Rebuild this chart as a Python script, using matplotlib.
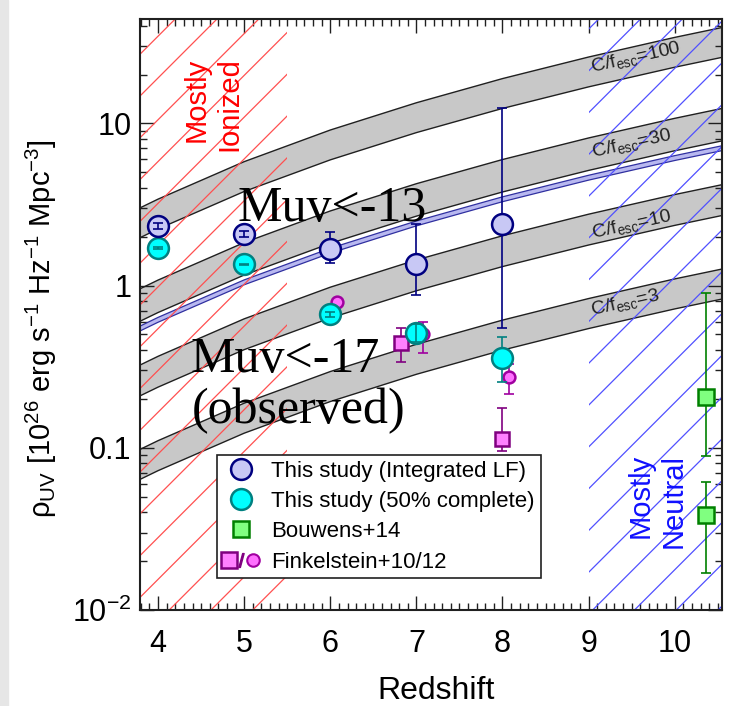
import numpy as np
import matplotlib
matplotlib.use('Agg')
import matplotlib.pyplot as plt
import matplotlib.ticker as mticker
import matplotlib.transforms as mtransforms
from matplotlib.lines import Line2D
from matplotlib.patches import Rectangle
from matplotlib.legend_handler import HandlerTuple

plt.rcParams['font.family'] = ['Liberation Sans', 'DejaVu Sans']
plt.rcParams['mathtext.fontset'] = 'custom'
plt.rcParams['mathtext.rm'] = 'Liberation Sans'
plt.rcParams['mathtext.it'] = 'Liberation Sans:italic'
plt.rcParams['mathtext.bf'] = 'Liberation Sans:bold'
plt.rcParams['mathtext.default'] = 'regular'

# --- model bands (C/f_esc), log10(rho) at the left edge plus growth with z
z_grid = [3.79, 4, 5, 6, 7, 8, 9, 10, 10.55]
growth_dex = [0.0, 0.054, 0.285, 0.480, 0.648, 0.797, 0.930, 1.051, 1.112]
band_names = ['100', '30', '10', '3']
band_top0 = [0.479, -0.02, -0.49, -1.01]
band_bot0 = [0.295, -0.22, -0.68, -1.195]
label_z = [9.55, 9.50, 9.50, 9.43]
label_rho = [25.6, 7.55, 2.37, 0.79]
uvlf_top0 = -0.250
uvlf_bot0 = -0.280

# hatched regions (redshift ranges)
ionized_z = [3.79, 5.5]
neutral_z = [9.0, 10.55]

# --- data points
z_int = [4, 5, 6, 7, 8]
rho_int = [2.32, 2.07, 1.67, 1.35, 2.40]
rho_int_lo = [2.22, 1.98, 1.37, 0.87, 0.55]
rho_int_hi = [2.43, 2.17, 2.14, 2.41, 12.5]

z_c50 = [4, 5, 6, 7, 8]
rho_c50 = [1.70, 1.35, 0.665, 0.508, 0.357]
rho_c50_lo = [1.69, 1.34, 0.64, 0.446, 0.256]
rho_c50_hi = [1.72, 1.36, 0.69, 0.578, 0.483]

z_b14 = [10.36, 10.36]
rho_b14 = [0.205, 0.0383]
rho_b14_lo = [0.0887, 0.017]
rho_b14_hi = [0.90, 0.0617]

z_f10 = [6.82, 8.0]
rho_f10 = [0.442, 0.1135]
rho_f10_lo = [0.339, 0.095]
rho_f10_hi = [0.55, 0.175]

z_f12 = [6.08, 7.08, 8.07]
rho_f12 = [0.79, 0.50, 0.275]
rho_f12_lo = [0.79, 0.383, 0.214]
rho_f12_hi = [0.79, 0.60, 0.33]

fig = plt.figure(figsize=(7.3, 7.06), dpi=100)
fig.patches.append(Rectangle((0, 0), 8 / 730, 1, transform=fig.transFigure,
                             color='#e6e6e6', zorder=-1))
ax = fig.add_axes([0.1918, 0.136, 0.7973, 0.8371])
ax.set_yscale('log')
ax.set_xlim(3.79, 10.55)
ax.set_ylim(0.01, 44)

zg = np.array(z_grid)
gr = np.array(growth_dex)

# grey bands
for top0, bot0 in zip(band_top0, band_bot0):
    top = 10 ** (top0 + gr)
    bot = 10 ** (bot0 + gr)
    ax.fill_between(zg, bot, top, facecolor='#c8c8c8', edgecolor='none', zorder=1)
    ax.plot(zg, top, color='#202020', lw=1.0, zorder=1.5)
    ax.plot(zg, bot, color='#202020', lw=1.0, zorder=1.5)

# thin blue band
ax.fill_between(zg, 10 ** (uvlf_bot0 + gr), 10 ** (uvlf_top0 + gr),
                facecolor='#b8b8f0', edgecolor='none', zorder=1.6)
ax.plot(zg, 10 ** (uvlf_top0 + gr), color='#3030a0', lw=0.9, zorder=1.7)
ax.plot(zg, 10 ** (uvlf_bot0 + gr), color='#3030a0', lw=0.9, zorder=1.7)

for name, lz, lr in zip(band_names, label_z, label_rho):
    ax.text(lz, lr, 'C/f$_{esc}$=' + name, fontsize=14, rotation=12.5,
            rotation_mode='anchor', ha='center', va='center', color='#202020', zorder=3)

# hatching, 45 degrees in pixel space
pos = ax.get_position()
k = (pos.width * fig.get_figwidth()) / (pos.height * fig.get_figheight())
blend = mtransforms.blended_transform_factory(ax.transData, ax.transAxes)


def hatch(zrange, color, x0, y0, step):
    clip = Rectangle((zrange[0], 0), zrange[1] - zrange[0], 1, transform=blend)
    xs = np.array([0.0, 1.0])
    for n in range(-40, 40):
        ys = y0 + n * step + k * (xs - x0)
        ln, = ax.plot(xs, ys, transform=ax.transAxes, color=color, lw=0.9, zorder=2)
        ln.set_clip_path(clip)


hatch(ionized_z, '#ff5050', 0.0, 0.4455, 0.0707)
hatch(neutral_z, '#5050ff', 0.7634, 0.41, 0.0707)


def points(z, rho, lo, hi, marker, ms, face, edge, zo, inside=()):
    rho = np.array(rho)
    yerr = [rho - np.array(lo), np.array(hi) - rho]
    ax.errorbar(z, rho, yerr=yerr, fmt='none', ecolor=edge, elinewidth=1.2,
                capsize=3.3, capthick=1.2, zorder=zo)
    ax.plot(z, rho, ls='none', marker=marker, ms=ms, mfc=face, mec=edge, mew=1.8,
            zorder=zo + 0.1)
    if inside:
        idx = list(inside)
        ax.errorbar(np.array(z)[idx], rho[idx],
                    yerr=[yerr[0][idx], yerr[1][idx]], fmt='none', ecolor=edge,
                    elinewidth=1.2, capsize=3.3, capthick=1.2, zorder=zo + 0.2)


points(z_f12, rho_f12, rho_f12_lo, rho_f12_hi, 'o', 8.5, '#ff70ff', '#a000a0', 4)
points(z_f10, rho_f10, rho_f10_lo, rho_f10_hi, 's', 10, '#ff80ff', '#800080', 4)
points(z_b14, rho_b14, rho_b14_lo, rho_b14_hi, 's', 11, '#80ff80', '#008000', 4)
points(z_c50, rho_c50, rho_c50_lo, rho_c50_hi, 'o', 15, '#00ffff', '#008080', 5,
       inside=(0, 1, 2, 3))
points(z_int, rho_int, rho_int_lo, rho_int_hi, 'o', 15, '#c8c8f5', '#000080', 5,
       inside=(0, 1))

# region labels
ax.text(4.636, 13.1, 'Mostly\nIonized', color='#ff0000', fontsize=21, rotation=90,
        ha='center', va='center', multialignment='right', zorder=3)
ax.text(9.796, 0.0469, 'Mostly\nNeutral', color='#1010ff', fontsize=21, rotation=90,
        ha='center', va='center', multialignment='right', zorder=3)

# added annotations
ax.text(4.917, 2.51, 'Muv<-13', family='Liberation Serif', fontsize=36, zorder=6)
ax.text(4.375, 0.295, 'Muv<-17', family='Liberation Serif', fontsize=36, zorder=6)
ax.text(4.387, 0.141, '(observed)', family='Liberation Serif', fontsize=36, zorder=6)

# axes styling
ax.set_xticks(range(4, 11))
ax.xaxis.set_minor_locator(mticker.MultipleLocator(0.1))
ax.yaxis.set_major_locator(mticker.FixedLocator([0.01, 0.1, 1, 10]))
ax.yaxis.set_major_formatter(mticker.FixedFormatter(['10$^{-2}$', '0.1', '1', '10']))
ax.yaxis.set_minor_locator(mticker.LogLocator(subs=np.arange(2, 10)))
ax.yaxis.set_minor_formatter(mticker.NullFormatter())
ax.tick_params(which='both', direction='in', top=True, right=True, width=1.0,
               color='#202020')
ax.tick_params(which='major', length=10)
ax.tick_params(which='minor', length=5)
ax.tick_params(axis='x', labelsize=22, pad=14)
ax.tick_params(axis='y', labelsize=22, pad=6)
for sp in ax.spines.values():
    sp.set_linewidth(1.5)
    sp.set_color('#202020')

ax.set_xlabel('Redshift', fontsize=23)
ax.xaxis.set_label_coords(0.5094, -0.1125)
ax.set_ylabel(r'$\rho_{UV}$ [10$^{26}$ erg s$^{-1}$ Hz$^{-1}$ Mpc$^{-3}$]', fontsize=21)
ax.yaxis.set_label_coords(-0.139, 0.4755)

# legend
h_int = Line2D([], [], ls='none', marker='o', ms=15, mfc='#c8c8f5', mec='#000080', mew=1.8)
h_c50 = Line2D([], [], ls='none', marker='o', ms=15, mfc='#00ffff', mec='#008080', mew=1.8)
h_b14 = Line2D([], [], ls='none', marker='s', ms=11, mfc='#80ff80', mec='#008000', mew=1.8)
h_f10 = Line2D([], [], ls='none', marker='s', ms=11, mfc='#ff80ff', mec='#800080', mew=1.8)
h_sl = Line2D([], [], ls='none', marker='$/$', ms=10, color='#800080')
h_f12 = Line2D([], [], ls='none', marker='o', ms=9, mfc='#ff70ff', mec='#a000a0', mew=1.5)
leg = ax.legend([h_int, h_c50, h_b14, (h_f10, h_sl, h_f12)],
                ['This study (Integrated LF)', 'This study (50% complete)',
                 'Bouwens+14', 'Finkelstein+10/12'],
                handler_map={tuple: HandlerTuple(ndivide=None, pad=0.0)},
                loc='upper left', bbox_to_anchor=(0.1323, 0.2623), borderaxespad=0,
                fontsize=16, handlelength=1.65, handletextpad=0.55, borderpad=0.25,
                labelspacing=0.42, fancybox=False, framealpha=1, edgecolor='#202020')
leg.get_frame().set_linewidth(1.2)
leg.set_zorder(7)

fig.savefig('out.png', dpi=100)
